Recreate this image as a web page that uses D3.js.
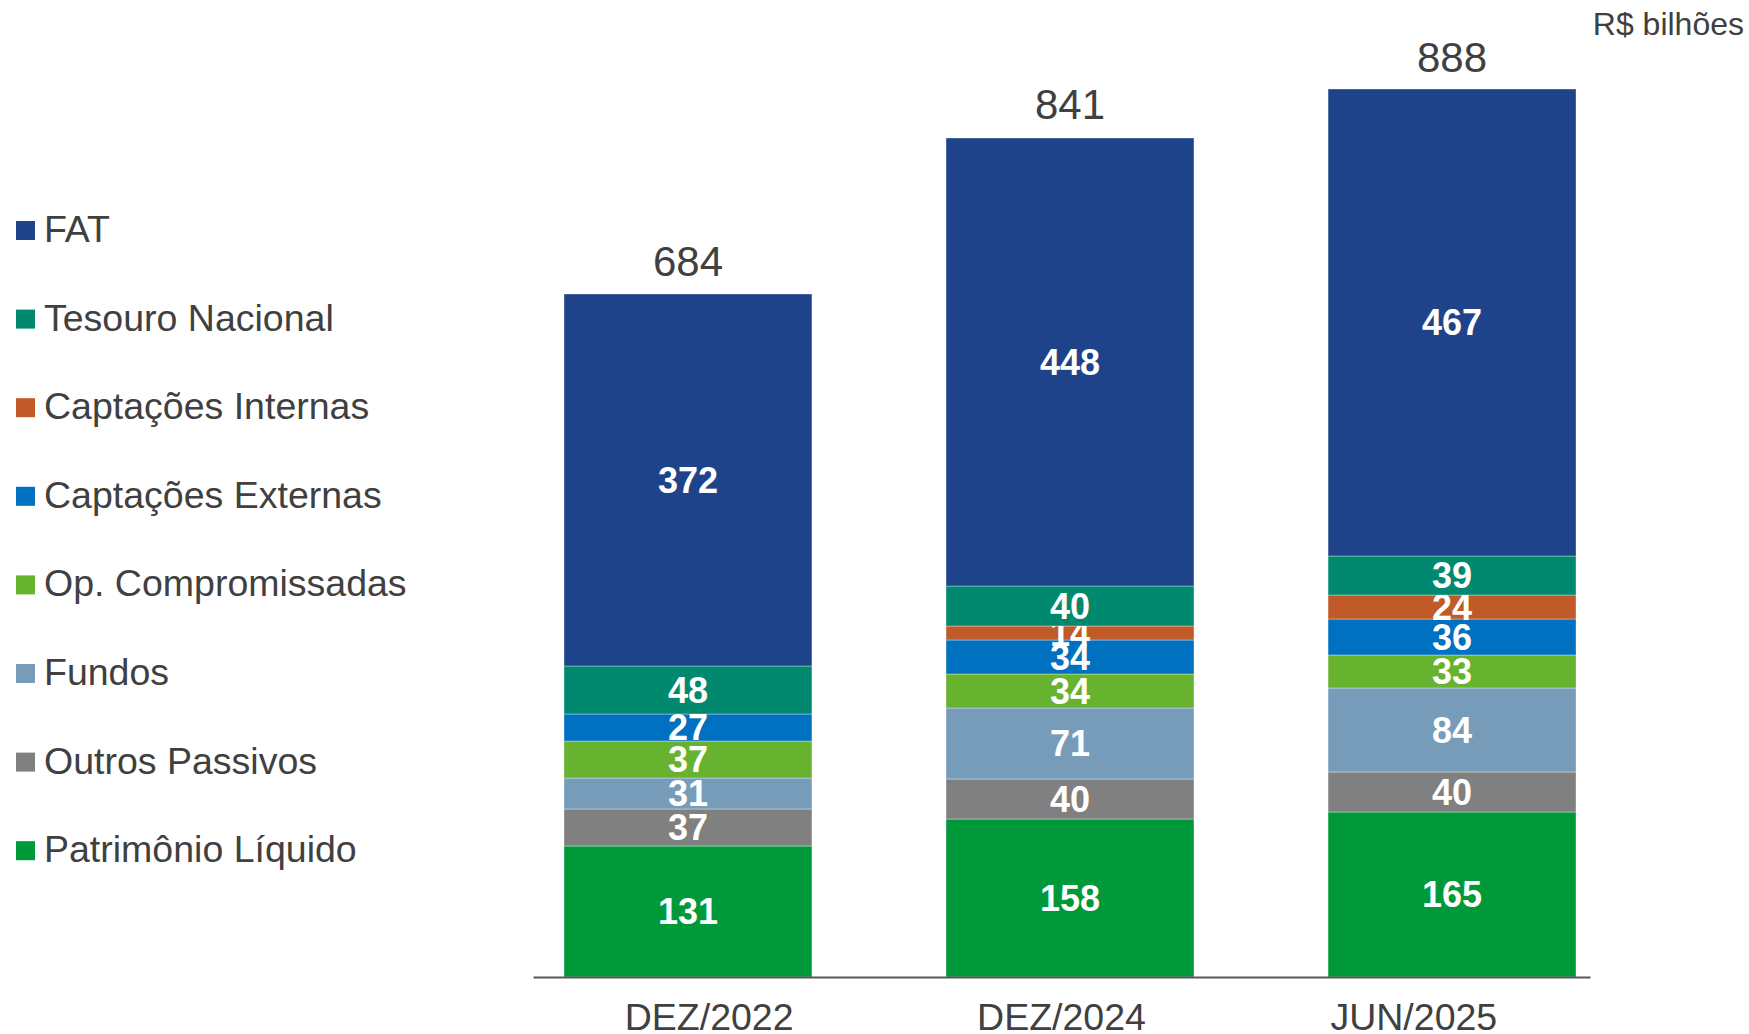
<!DOCTYPE html>
<html>
<head>
<meta charset="utf-8">
<script src="https://cdn.jsdelivr.net/npm/d3@7"></script>
<style>
  html, body { margin: 0; padding: 0; background: #ffffff; }
  svg { display: block; font-family: "Liberation Sans", Arial, sans-serif; }
</style>
</head>
<body>
<svg id="chart" width="1749" height="1034"></svg>
<script>
// ---- data ----
const categories = ["DEZ/2022", "DEZ/2024", "JUN/2025"];
const seriesNames = ["Patrimônio Líquido", "Outros Passivos", "Fundos", "Op. Compromissadas",
                     "Captações Externas", "Captações Internas", "Tesouro Nacional", "FAT"];
const patrimonioLiquido = [131, 158, 165];
const outrosPassivos    = [37, 40, 40];
const fundos            = [31, 71, 84];
const opCompromissadas  = [37, 34, 33];
const captacoesExternas = [27, 34, 36];
const captacoesInternas = [0, 14, 24];
const tesouroNacional   = [48, 40, 39];
const fat               = [372, 448, 467];
const totals            = [684, 841, 888];
const unitLabel = "R$ bilhões";

const seriesValues = [patrimonioLiquido, outrosPassivos, fundos, opCompromissadas,
                      captacoesExternas, captacoesInternas, tesouroNacional, fat];
const colors = ["#00993A", "#808080", "#779CBA", "#67B22F",
                "#0070C0", "#C05A28", "#00896F", "#1F438B"];
const legendOrder = ["FAT", "Tesouro Nacional", "Captações Internas", "Captações Externas",
                     "Op. Compromissadas", "Fundos", "Outros Passivos", "Patrimônio Líquido"];

// ---- build table ----
const table = categories.map((c, i) => {
  const row = { cat: c };
  seriesNames.forEach((s, j) => row[s] = seriesValues[j][i]);
  return row;
});
const stacked = d3.stack().keys(seriesNames)(table);

const svg = d3.select("#chart");
const textColor = "#404040";

const x = d3.scaleBand().domain(categories).range([564, 1576]).paddingInner(0.351).paddingOuter(0);
const xAxisScale = d3.scaleBand().domain(categories).range([533, 1590]).padding(0);
const y = d3.scaleLinear().domain([0, 888]).range([977, 89]);
const color = d3.scaleOrdinal().domain(seriesNames).range(colors);

// bars
const layers = svg.append("g").selectAll("g").data(stacked).join("g")
  .attr("fill", d => color(d.key));
layers.selectAll("rect").data(d => d.map(v => Object.assign(v, { key: d.key })))
  .join("rect")
  .attr("x", d => x(d.data.cat))
  .attr("width", x.bandwidth())
  .attr("y", d => y(d[1]))
  .attr("height", d => y(d[0]) - y(d[1]))
  .attr("stroke", "rgba(255,255,255,0.35)")
  .attr("stroke-width", 1);

// segment labels
layers.selectAll("text").data(d => d.filter(v => v[1] - v[0] > 0))
  .join("text")
  .attr("x", d => x(d.data.cat) + x.bandwidth() / 2)
  .attr("y", d => (y(d[0]) + y(d[1])) / 2)
  .attr("dy", "0.36em")
  .attr("text-anchor", "middle")
  .attr("fill", "#ffffff")
  .attr("font-weight", "bold")
  .attr("font-size", 36)
  .text(d => d[1] - d[0]);

// totals
svg.append("g").selectAll("text").data(categories).join("text")
  .attr("x", d => x(d) + x.bandwidth() / 2)
  .attr("y", (d, i) => y(totals[i]) - 17)
  .attr("text-anchor", "middle")
  .attr("fill", textColor)
  .attr("font-size", 42)
  .text((d, i) => totals[i]);

// axis
const axis = svg.append("g")
  .attr("transform", "translate(0,977)")
  .call(d3.axisBottom(xAxisScale).tickSize(0).tickPadding(26).tickSizeOuter(0));
axis.select(".domain").attr("stroke", "#595959").attr("stroke-width", 2);
axis.selectAll(".tick text")
  .attr("fill", textColor)
  .attr("font-size", 37.5)
  .attr("font-family", "\"Liberation Sans\", Arial, sans-serif");

// unit label
svg.append("text")
  .attr("x", 1744).attr("y", 35)
  .attr("text-anchor", "end")
  .attr("fill", textColor)
  .attr("font-size", 32)
  .text(unitLabel);

// legend
const legend = svg.append("g").selectAll("g").data(legendOrder).join("g")
  .attr("transform", (d, i) => `translate(0,${242 + i * 88.6})`);
legend.append("rect")
  .attr("x", 16).attr("y", -21).attr("width", 19).attr("height", 19)
  .attr("fill", d => color(d));
legend.append("text")
  .attr("x", 44).attr("y", 0)
  .attr("fill", textColor)
  .attr("font-size", 37.5)
  .text(d => d);
</script>
</body>
</html>
